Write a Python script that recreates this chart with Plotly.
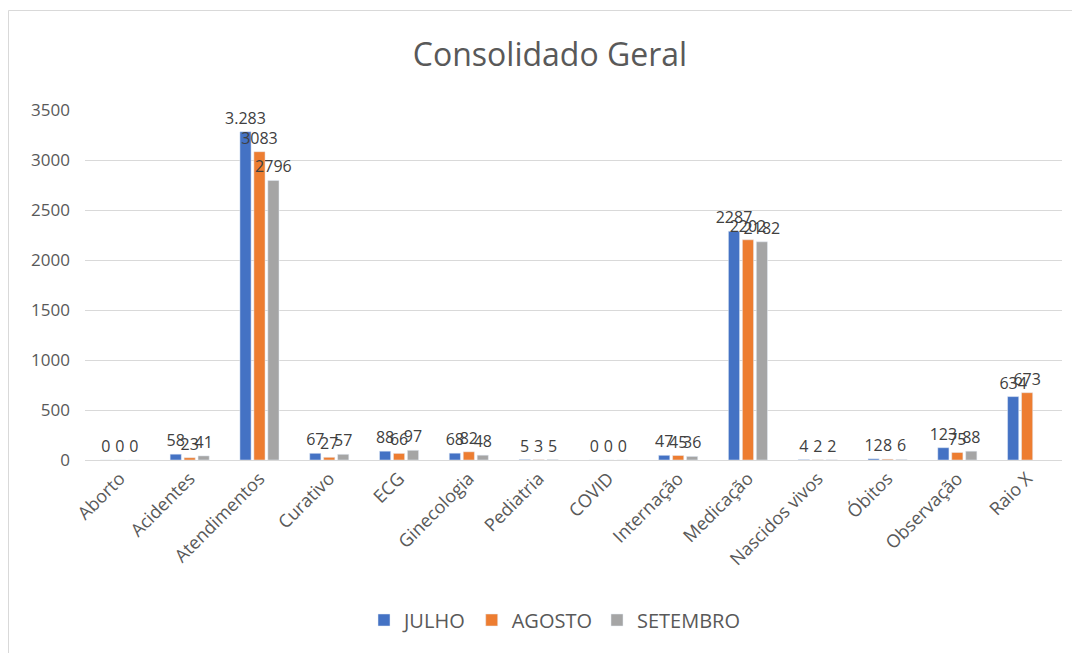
import plotly.graph_objects as go

categories = ["Aborto", "Acidentes", "Atendimentos", "Curativo", "ECG", "Ginecologia",
              "Pediatria", "COVID", "Internação", "Medicação", "Nascidos vivos",
              "Óbitos", "Observação", "Raio X"]
julho = [0, 58, 3283, 67, 88, 68, 5, 0, 47, 2287, 4, 12, 123, 634]
agosto = [0, 23, 3083, 27, 66, 82, 3, 0, 45, 2202, 2, 8, 75, 673]
setembro = [0, 41, 2796, 57, 97, 48, 5, 0, 36, 2182, 2, 6, 88, None]
julho_labels = [("3.283" if v == 3283 else str(v)) for v in julho]

series = [("JULHO", julho, "#4472C4", julho_labels),
          ("AGOSTO", agosto, "#ED7D31", None),
          ("SETEMBRO", setembro, "#A5A5A5", None)]

OFF = 8
W, H = 1072, 645
L, R, T = 83 - OFF + 2, 18, 110 - OFF
B = H - (460 - OFF)
pw, ph = W - L - R, H - T - B

fig = go.Figure()
for name, vals, color, labels in series:
    txt = labels if labels else [("" if v is None else str(v)) for v in vals]
    fig.add_trace(go.Bar(
        name=name, x=categories, y=vals, marker_color=color,
        text=txt, textposition="outside", cliponaxis=False,
        textfont=dict(size=16, color="#404040", family="Open Sans"),
        constraintext="none",
    ))

def px_x(p):
    return (p - OFF - L) / pw

def px_y(p):
    return (H - B - (p - OFF)) / ph

fig.add_shape(type="rect", xref="paper", yref="paper",
              x0=px_x(8.5), x1=px_x(1090), y0=px_y(700), y1=px_y(10.5),
              line=dict(color="#D9D9D9", width=1), fillcolor="rgba(0,0,0,0)", layer="below")

fig.update_layout(
    width=W, height=H,
    margin=dict(l=L, r=R, t=T, b=B, autoexpand=False),
    paper_bgcolor="white", plot_bgcolor="white",
    barmode="group", bargap=0.4, bargroupgap=0.2,
    title=dict(text="Consolidado Geral", x=px_x(550), xref="paper", xanchor="center",
               y=1 - (55 - OFF) / H, yanchor="middle", automargin=False,
               font=dict(family="Open Sans", size=32, color="#595959")),
    font=dict(family="Open Sans", color="#595959"),
    yaxis=dict(range=[0, 3500], dtick=500, showgrid=True, gridcolor="#D9D9D9",
               gridwidth=1, zeroline=False, showline=False, automargin=False,
               tickfont=dict(size=17, color="#595959"), ticks="", ticklabelstandoff=14),
    xaxis=dict(tickangle=-45, tickfont=dict(size=18, color="#595959"), automargin=False,
               showline=True, linecolor="#D9D9D9", linewidth=1, ticks=""),
    legend=dict(orientation="h", x=px_x(555), xanchor="center", y=px_y(620),
                yanchor="middle", font=dict(size=20, color="#595959"),
                itemwidth=30, traceorder="normal"),
    uniformtext=dict(mode=False),
)

fig.write_html("out.html")
